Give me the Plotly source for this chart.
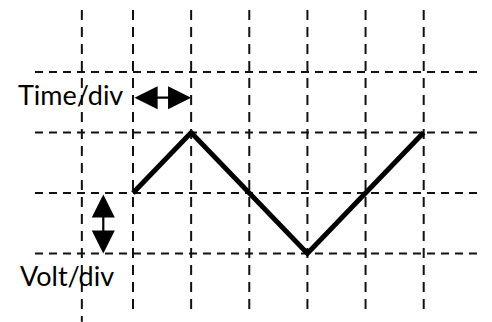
import plotly.graph_objects as go

# Data (time in divisions, voltage in divisions)
wave_t = [0, 1, 3, 5]
wave_v = [0, 1, -1, 1]

grid_t = [-0.88, 0, 1, 2, 3, 4, 5]      # vertical dashed lines
grid_v = [2, 1, 0, -1]                  # horizontal dashed lines

labels = ["Time/div", "Volt/div"]

# ranges / extents (layout)
X_RANGE = [-133 / 58.14, (492 - 133) / 58.14]
Y_RANGE = [(193 - 322) / 60.5, 193 / 60.5]
H_EXT = [-1.686, 6.003]
V_EXT = [-2.0, 3.025]

fig = go.Figure()

# horizontal grid lines
hx, hy = [], []
for v in grid_v:
    hx += [H_EXT[0], H_EXT[1], None]
    hy += [v, v, None]
fig.add_trace(go.Scatter(x=hx, y=hy, mode="lines",
                         line=dict(color="#111", width=2, dash="8px,6px"),
                         hoverinfo="skip", showlegend=False))

# vertical grid lines
vx, vy = [], []
for t in grid_t:
    vx += [t, t, None]
    vy += [V_EXT[1], V_EXT[0] if t != grid_t[0] else -2.13, None]
fig.add_trace(go.Scatter(x=vx, y=vy, mode="lines",
                         line=dict(color="#111", width=2, dash="10px,7px"),
                         hoverinfo="skip", showlegend=False))

# triangle wave
fig.add_trace(go.Scatter(x=wave_t, y=wave_v, mode="lines",
                         line=dict(color="black", width=5),
                         hoverinfo="skip", showlegend=False))

arrow_common = dict(showarrow=True, text="", arrowhead=2, startarrowhead=2,
                    arrowside="end+start", arrowwidth=2.2, arrowsize=2.1,
                    startarrowsize=2.1, arrowcolor="black",
                    xref="x", yref="y", axref="x", ayref="y")

# Time/div arrow: one division along time
fig.add_annotation(x=grid_t[2], y=1.575, ax=grid_t[1], ay=1.575, **arrow_common)
# Volt/div arrow: one division along voltage
fig.add_annotation(x=-0.511, y=grid_v[3], ax=-0.511, ay=grid_v[2], **arrow_common)

font = dict(family="Lato, sans-serif", size=27, color="black")
fig.add_annotation(x=-0.138, y=1.62, text=labels[0], showarrow=False,
                   xanchor="right", yanchor="middle", font=font,
                   xref="x", yref="y")
fig.add_annotation(x=(18 - 133) / 58.14, y=-1.36, text=labels[1], showarrow=False,
                   xanchor="left", yanchor="middle", font=font,
                   xref="x", yref="y")

fig.update_xaxes(range=X_RANGE, visible=False, fixedrange=True)
fig.update_yaxes(range=Y_RANGE, visible=False, fixedrange=True)
fig.update_layout(width=492, height=322, margin=dict(l=0, r=0, t=0, b=0),
                  paper_bgcolor="white", plot_bgcolor="white")

fig.write_html("out.html", config={"displayModeBar": False},
               post_script="document.body.style.margin='0';document.body.style.overflow='hidden';")
